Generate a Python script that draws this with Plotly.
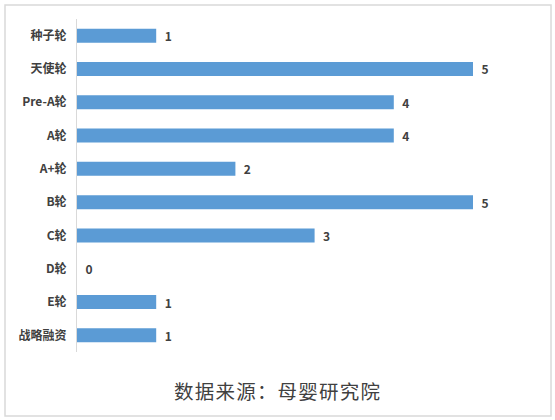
import plotly.graph_objects as go

rounds = ['种子轮', '天使轮', 'Pre-A轮', 'A轮', 'A+轮', 'B轮', 'C轮', 'D轮', 'E轮', '战略融资']
counts = [1, 5, 4, 4, 2, 5, 3, 0, 1, 1]
source_note = '数据来源：母婴研究院'

bar_color = '#5b9bd5'
text_color = '#404040'
cjk = 'Noto Sans CJK SC, Noto Sans, sans-serif'

fig = go.Figure()
fig.add_trace(go.Bar(
    x=counts,
    y=rounds,
    orientation='h',
    marker=dict(color=bar_color, line=dict(width=0)),
    text=['\u00a0\u00a0' + str(c) for c in counts],
    textposition='outside',
    constraintext='none',
    textfont=dict(family=cjk, size=12, color=text_color, weight='bold'),
    cliponaxis=False,
    width=0.42,
))

fig.update_layout(
    width=555,
    height=420,
    margin=dict(l=77, r=82, t=19, b=68),
    paper_bgcolor='white',
    plot_bgcolor='white',
    showlegend=False,
    xaxis=dict(range=[0, 5], visible=False, fixedrange=True),
    yaxis=dict(
        autorange='reversed',
        automargin=False,
        showline=True,
        linecolor='#d9d9d9',
        linewidth=1,
        showgrid=False,
        ticks='',
        ticklabelstandoff=7,
        tickfont=dict(family=cjk, size=12, color=text_color, weight='bold'),
    ),
    font=dict(family=cjk),
)

# chart frame
fig.add_shape(type='rect', xref='paper', yref='paper',
              x0=-0.1818, x1=1.197, y0=-0.192, y1=1.042,
              line=dict(color='#d9d9d9', width=1.5), fillcolor='rgba(0,0,0,0)', layer='below')

# source note, spread out a little like the original
fig.add_annotation(text='\u200a'.join(source_note), xref='paper', yref='paper',
                   x=0.506, y=-0.117, xanchor='center', yanchor='middle', showarrow=False,
                   font=dict(family=cjk, size=19.5, color=text_color))

fig.write_html('out.html', config={'displayModeBar': False},
               post_script="document.body.style.margin='0';")
